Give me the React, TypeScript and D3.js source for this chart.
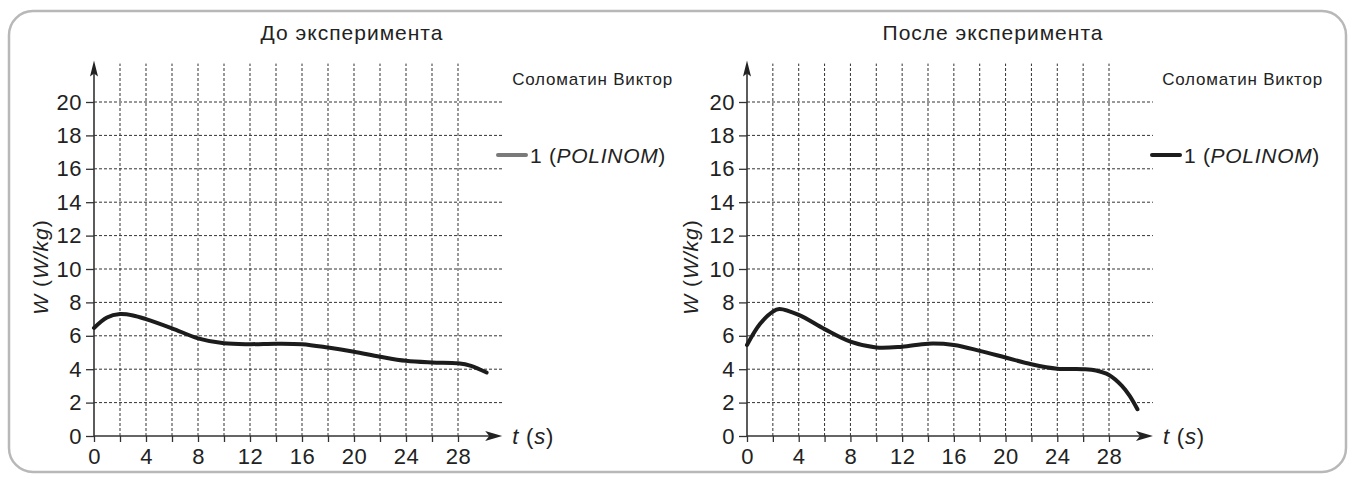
import React, { useEffect, useRef } from "react";
import * as d3 from "d3";

// time ticks (s) and W ticks (W/kg)
const xTicks = [0, 2, 4, 6, 8, 10, 12, 14, 16, 18, 20, 22, 24, 26, 28];
const xLabels = [0, 4, 8, 12, 16, 20, 24, 28];
const yTicks = [0, 2, 4, 6, 8, 10, 12, 14, 16, 18, 20];

// "До эксперимента" curve
const beforeT = [0, 1, 2, 3, 4, 6, 8, 10, 12, 14, 16, 18, 20, 22, 24, 26, 28, 29, 30.2];
const beforeW = [6.47, 7.1, 7.3, 7.22, 7.0, 6.45, 5.85, 5.55, 5.5, 5.53, 5.5, 5.3, 5.05, 4.75, 4.5, 4.4, 4.35, 4.2, 3.8];

// "После эксперимента" curve
const afterT = [0, 1, 2, 2.5, 4, 6, 8, 10, 12, 14, 16, 18, 20, 22, 24, 26, 27, 28, 29, 29.6, 30.2];
const afterW = [5.45, 6.7, 7.45, 7.6, 7.25, 6.4, 5.65, 5.3, 5.35, 5.53, 5.45, 5.1, 4.7, 4.3, 4.03, 4.0, 3.92, 3.65, 3.0, 2.4, 1.6];

const FONT = "'Liberation Sans', Arial, Helvetica, sans-serif";

const W = 1352;
const H = 479;

function drawPanel(
  root: d3.Selection<SVGGElement, unknown, null, undefined>,
  opts: {
    x0: number;
    x28: number;
    title: string;
    titleX: number;
    legendColor: string;
    t: number[];
    w: number[];
    ylabelX: number;
    sigRight: number;
    legendX: number;
  }
) {
  const x = d3.scaleLinear().domain([0, 28]).range([opts.x0, opts.x28]);
  const y = d3.scaleLinear().domain([0, 20]).range([436, 102]);
  const g = root.append("g");

  const xMax = 31.4;
  const yMax = 22.3;

  // grid
  g.append("g")
    .selectAll("line")
    .data(yTicks.filter((d) => d > 0))
    .join("line")
    .attr("x1", x(0))
    .attr("x2", x(xMax))
    .attr("y1", (d) => y(d))
    .attr("y2", (d) => y(d))
    .attr("stroke", "#333")
    .attr("stroke-width", 1)
    .attr("stroke-dasharray", "3,2");

  g.append("g")
    .selectAll("line")
    .data(xTicks.filter((d) => d > 0))
    .join("line")
    .attr("x1", (d) => x(d))
    .attr("x2", (d) => x(d))
    .attr("y1", y(0))
    .attr("y2", y(yMax))
    .attr("stroke", "#333")
    .attr("stroke-width", 1)
    .attr("stroke-dasharray", "3,2");

  // axes
  const yAxis = d3
    .axisLeft(y)
    .tickValues(yTicks)
    .tickSize(8)
    .tickPadding(4)
    .tickFormat((d) => String(d));
  const ya = g.append("g").attr("transform", `translate(${x(0)},0)`).call(yAxis);
  ya.select(".domain").remove();

  const xAxis = d3
    .axisBottom(x)
    .tickValues(xTicks)
    .tickSize(6)
    .tickPadding(6)
    .tickFormat((d) => (xLabels.includes(d as number) ? String(d) : ""));
  const xa = g.append("g").attr("transform", `translate(0,${y(0)})`).call(xAxis);
  xa.select(".domain").remove();

  [ya, xa].forEach((a) => {
    a.selectAll("line").attr("stroke", "#333").attr("stroke-width", 1.3);
    a.selectAll("text")
      .attr("fill", "#222")
      .style("font-family", FONT)
      .style("font-size", "22px")
      .style("letter-spacing", "0.5px");
  });

  // axis lines with arrows
  g.append("line")
    .attr("x1", x(0))
    .attr("x2", x(xMax) - 6)
    .attr("y1", y(0))
    .attr("y2", y(0))
    .attr("stroke", "#333")
    .attr("stroke-width", 1.6);
  g.append("path")
    .attr(
      "d",
      `M${x(xMax)},${y(0)} L${x(xMax) - 17},${y(0) - 5} L${x(xMax) - 13},${y(0)} L${x(xMax) - 17},${y(0) + 5} Z`
    )
    .attr("fill", "#222");

  g.append("line")
    .attr("x1", x(0))
    .attr("x2", x(0))
    .attr("y1", y(0))
    .attr("y2", y(yMax) + 6)
    .attr("stroke", "#333")
    .attr("stroke-width", 1.6);
  g.append("path")
    .attr(
      "d",
      `M${x(0)},${y(yMax) - 3} L${x(0) - 4},${y(yMax) + 13} L${x(0)},${y(yMax) + 10} L${x(0) + 4},${y(yMax) + 13} Z`
    )
    .attr("fill", "#222");

  // axis titles
  const tl = g
    .append("text")
    .attr("x", x(xMax) + 10)
    .attr("y", y(0) + 8)
    .style("font-family", FONT)
    .style("font-size", "22px")
    .style("letter-spacing", "0.8px")
    .attr("fill", "#222");
  tl.append("tspan").style("font-style", "italic").text("t");
  tl.append("tspan").text(" (");
  tl.append("tspan").style("font-style", "italic").text("s");
  tl.append("tspan").text(")");

  const yl = g
    .append("text")
    .attr("transform", `translate(${opts.ylabelX},267) rotate(-90)`)
    .attr("text-anchor", "middle")
    .style("font-family", FONT)
    .style("font-size", "21px")
    .style("letter-spacing", "1px")
    .attr("fill", "#222");
  yl.append("tspan").style("font-style", "italic").text("W");
  yl.append("tspan").text(" (");
  yl.append("tspan").style("font-style", "italic").text("W/kg");
  yl.append("tspan").text(")");

  // curve
  const pts: [number, number][] = opts.t.map((t, i) => [t, opts.w[i]]);
  const line = d3
    .line<[number, number]>()
    .x((d) => x(d[0]))
    .y((d) => y(d[1]))
    .curve(d3.curveCatmullRom.alpha(0.5));
  g.append("path")
    .datum(pts)
    .attr("d", line)
    .attr("fill", "none")
    .attr("stroke", "#1c1c1c")
    .attr("stroke-width", 4)
    .attr("stroke-linecap", "round");

  // title
  g.append("text")
    .attr("x", opts.titleX)
    .attr("y", 40)
    .attr("text-anchor", "middle")
    .style("font-family", FONT)
    .style("font-size", "21px")
    .style("letter-spacing", "1px")
    .attr("fill", "#222")
    .text(opts.title);

  // signature + legend
  g.append("text")
    .attr("x", opts.sigRight)
    .attr("y", 85)
    .attr("text-anchor", "end")
    .style("font-family", FONT)
    .style("font-size", "17px")
    .style("letter-spacing", "0.8px")
    .attr("fill", "#222")
    .text("Соломатин Виктор");

  g.append("line")
    .attr("x1", opts.legendX)
    .attr("x2", opts.legendX + 28)
    .attr("y1", 155)
    .attr("y2", 155)
    .attr("stroke", opts.legendColor)
    .attr("stroke-width", 4)
    .attr("stroke-linecap", "round");
  const lt = g
    .append("text")
    .attr("x", opts.legendX + 32)
    .attr("y", 163)
    .style("font-family", FONT)
    .style("font-size", "21px")
    .style("letter-spacing", "0.7px")
    .attr("fill", "#222");
  lt.append("tspan").text("1 (");
  lt.append("tspan").style("font-style", "italic").text("POLINOM");
  lt.append("tspan").text(")");
}

const App = () => {
  const ref = useRef<SVGSVGElement>(null);

  useEffect(() => {
    if (!ref.current) return;
    const svg = d3.select(ref.current);
    svg.selectAll("*").remove();

    svg
      .append("rect")
      .attr("x", 9)
      .attr("y", 11)
      .attr("width", 1337)
      .attr("height", 461)
      .attr("rx", 24)
      .attr("fill", "#fff")
      .attr("stroke", "#b8b8b8")
      .attr("stroke-width", 2.5);

    const root = svg.append("g") as d3.Selection<SVGGElement, unknown, null, undefined>;

    drawPanel(root, {
      x0: 94,
      x28: 458,
      title: "До эксперимента",
      titleX: 352,
      legendColor: "#7a7a7a",
      t: beforeT,
      w: beforeW,
      ylabelX: 48,
      sigRight: 673,
      legendX: 498,
    });

    drawPanel(root, {
      x0: 747,
      x28: 1109,
      title: "После эксперимента",
      titleX: 993,
      legendColor: "#1c1c1c",
      t: afterT,
      w: afterW,
      ylabelX: 698,
      sigRight: 1323,
      legendX: 1152,
    });
  }, []);

  return (
    <svg
      ref={ref}
      width={W}
      height={H}
      style={{ position: "absolute", left: 0, top: 0, background: "#fff" }}
    />
  );
};

export default App;
